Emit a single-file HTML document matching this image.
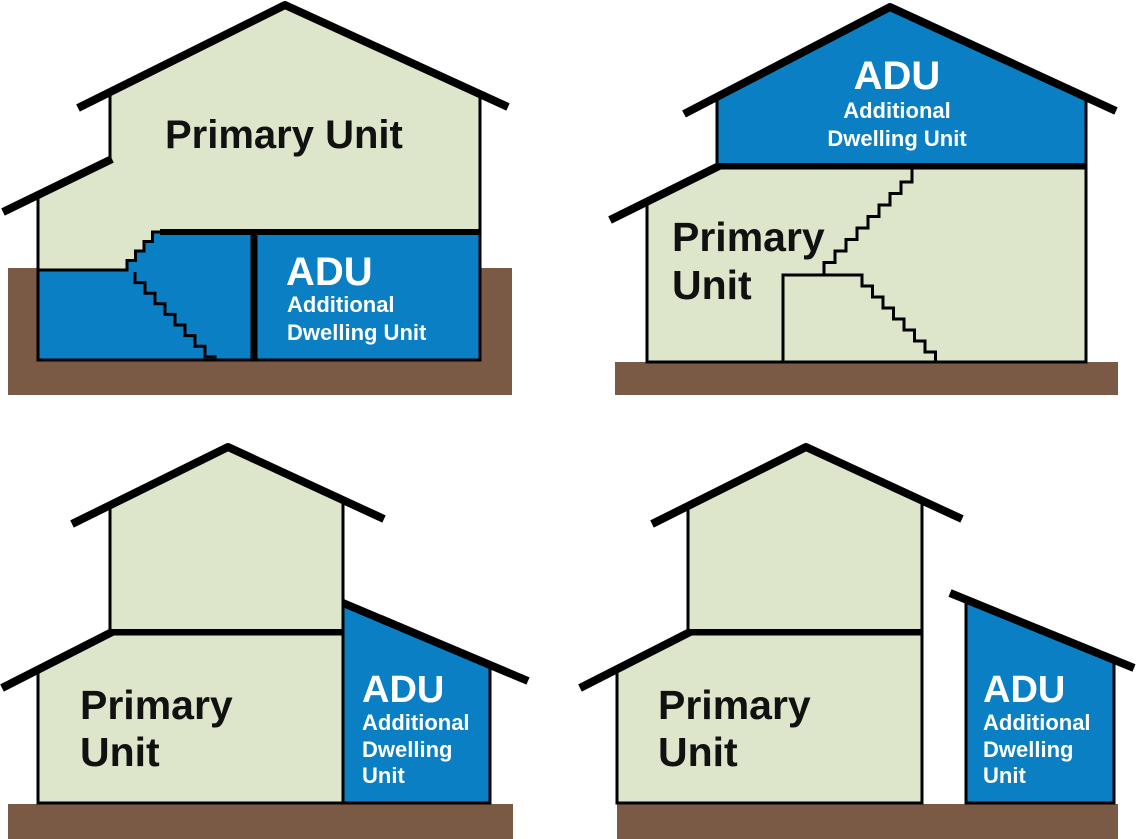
<!DOCTYPE html>
<html><head><meta charset="utf-8"><style>
html,body{margin:0;padding:0;background:#fff;}
svg{display:block;}
.t{font-family:"Liberation Sans",sans-serif;font-weight:bold;}
</style></head><body>
<svg width="1136" height="839" viewBox="0 0 1136 839" xmlns="http://www.w3.org/2000/svg">
<!-- HOUSE 1 -->
<rect x="8" y="268" width="504" height="127" fill="#7a5a45"/>
<polygon points="38,195 110,160 110,92 285,5 480,94 480,360 38,360" fill="#dde5ca" stroke="#000" stroke-width="3"/>
<path d="M38,270 H127 v-9.5 h8.5 v-9.5 h8.5 v-9.5 h8.5 v-9.5 h8.5 H480 V360 H38 Z" fill="#0a7fc4" stroke="#000" stroke-width="3"/>
<line x1="160" y1="232" x2="480" y2="232" stroke="#000" stroke-width="6"/>
<path d="M135,272 v10.6 h10 v10.6 h10 v10.6 h10 v10.6 h10 v10.6 h10 v10.6 h10 v10.6 h10 v10.6 h10 v3" fill="none" stroke="#000" stroke-width="3"/>
<line x1="254" y1="232" x2="254" y2="360" stroke="#000" stroke-width="7"/>
<polyline points="78,108 285,5 508,107" fill="none" stroke="#000" stroke-width="8" stroke-linejoin="round"/>
<line x1="3" y1="212" x2="112" y2="159" stroke="#000" stroke-width="8"/>
<text class="t" x="165" y="148" font-size="40" fill="#111">Primary Unit</text>
<text class="t" x="286" y="285" font-size="40" fill="#fff">ADU</text>
<text class="t" x="287" y="312" font-size="22" fill="#fff">Additional</text>
<text class="t" x="287" y="340" font-size="22" fill="#fff">Dwelling Unit</text>

<!-- HOUSE 2 -->
<rect x="615" y="362" width="503" height="33" fill="#7a5a45"/>
<polygon points="647,202 717,168 1086,168 1086,362 647,362" fill="#dde5ca" stroke="#000" stroke-width="3"/>
<polygon points="717,97 890,7 1086,97 1086,166 717,166" fill="#0a7fc4" stroke="#000" stroke-width="3"/>
<line x1="717" y1="166" x2="1086" y2="166" stroke="#000" stroke-width="6"/>
<path d="M912,168 v14 h-11 v11.5 h-11 v11.5 h-11 v11.5 h-11 v11.5 h-11 v11.5 h-11 v11.5 h-11 v11.5 h-11 v11.5" fill="none" stroke="#000" stroke-width="3"/>
<path d="M783,362 V275 H862 v11 h10.5 v11 h10.5 v11 h10.5 v11 h10.5 v11 h10.5 v11 h10.5 v11 h10.5 v10" fill="none" stroke="#000" stroke-width="3"/>
<polyline points="684,114 890,7 1116,111" fill="none" stroke="#000" stroke-width="8" stroke-linejoin="round"/>
<line x1="610" y1="220" x2="719" y2="166" stroke="#000" stroke-width="8"/>
<text class="t" x="672" y="251" font-size="41" fill="#111">Primary</text>
<text class="t" x="672" y="299" font-size="41" fill="#111">Unit</text>
<text class="t" x="897" y="89" font-size="40" fill="#fff" text-anchor="middle">ADU</text>
<text class="t" x="897" y="118" font-size="22" fill="#fff" text-anchor="middle">Additional</text>
<text class="t" x="897" y="146" font-size="22" fill="#fff" text-anchor="middle">Dwelling Unit</text>

<!-- HOUSE 3 -->
<rect x="8" y="804" width="505" height="35" fill="#7a5a45"/>
<polygon points="110,505 228,447 343,500 343,632 110,632" fill="#dde5ca" stroke="#000" stroke-width="3"/>
<polygon points="38,670 110,634 343,634 343,803 38,803" fill="#dde5ca" stroke="#000" stroke-width="3"/>
<polygon points="343,603 490,665 490,803 343,803" fill="#0a7fc4" stroke="#000" stroke-width="3"/>
<line x1="110" y1="632" x2="343" y2="632" stroke="#000" stroke-width="6"/>
<polyline points="72,524 228,447 384,519" fill="none" stroke="#000" stroke-width="8" stroke-linejoin="round"/>
<line x1="2" y1="688" x2="112" y2="632" stroke="#000" stroke-width="8"/>
<line x1="343" y1="603" x2="528" y2="681" stroke="#000" stroke-width="8"/>
<text class="t" x="80" y="719" font-size="41" fill="#111">Primary</text>
<text class="t" x="80" y="766" font-size="41" fill="#111">Unit</text>
<text class="t" x="362" y="702" font-size="38" fill="#fff">ADU</text>
<text class="t" x="362" y="730" font-size="22" fill="#fff">Additional</text>
<text class="t" x="362" y="757" font-size="22" fill="#fff">Dwelling</text>
<text class="t" x="362" y="783" font-size="22" fill="#fff">Unit</text>

<!-- HOUSE 4 -->
<rect x="617" y="804" width="501" height="35" fill="#7a5a45"/>
<polygon points="688,506 806,447 922,501 922,632 688,632" fill="#dde5ca" stroke="#000" stroke-width="3"/>
<polygon points="617,669 688,634 922,634 922,803 617,803" fill="#dde5ca" stroke="#000" stroke-width="3"/>
<polygon points="966,599 1114,660 1114,803 966,803" fill="#0a7fc4" stroke="#000" stroke-width="3"/>
<line x1="688" y1="632" x2="922" y2="632" stroke="#000" stroke-width="6"/>
<polyline points="652,524 806,447 962,519" fill="none" stroke="#000" stroke-width="8" stroke-linejoin="round"/>
<line x1="580" y1="688" x2="690" y2="632" stroke="#000" stroke-width="8"/>
<line x1="950" y1="593" x2="1134" y2="668" stroke="#000" stroke-width="8"/>
<text class="t" x="658" y="719" font-size="41" fill="#111">Primary</text>
<text class="t" x="658" y="766" font-size="41" fill="#111">Unit</text>
<text class="t" x="983" y="702" font-size="38" fill="#fff">ADU</text>
<text class="t" x="983" y="730" font-size="22" fill="#fff">Additional</text>
<text class="t" x="983" y="757" font-size="22" fill="#fff">Dwelling</text>
<text class="t" x="983" y="783" font-size="22" fill="#fff">Unit</text>
</svg>
</body></html>
